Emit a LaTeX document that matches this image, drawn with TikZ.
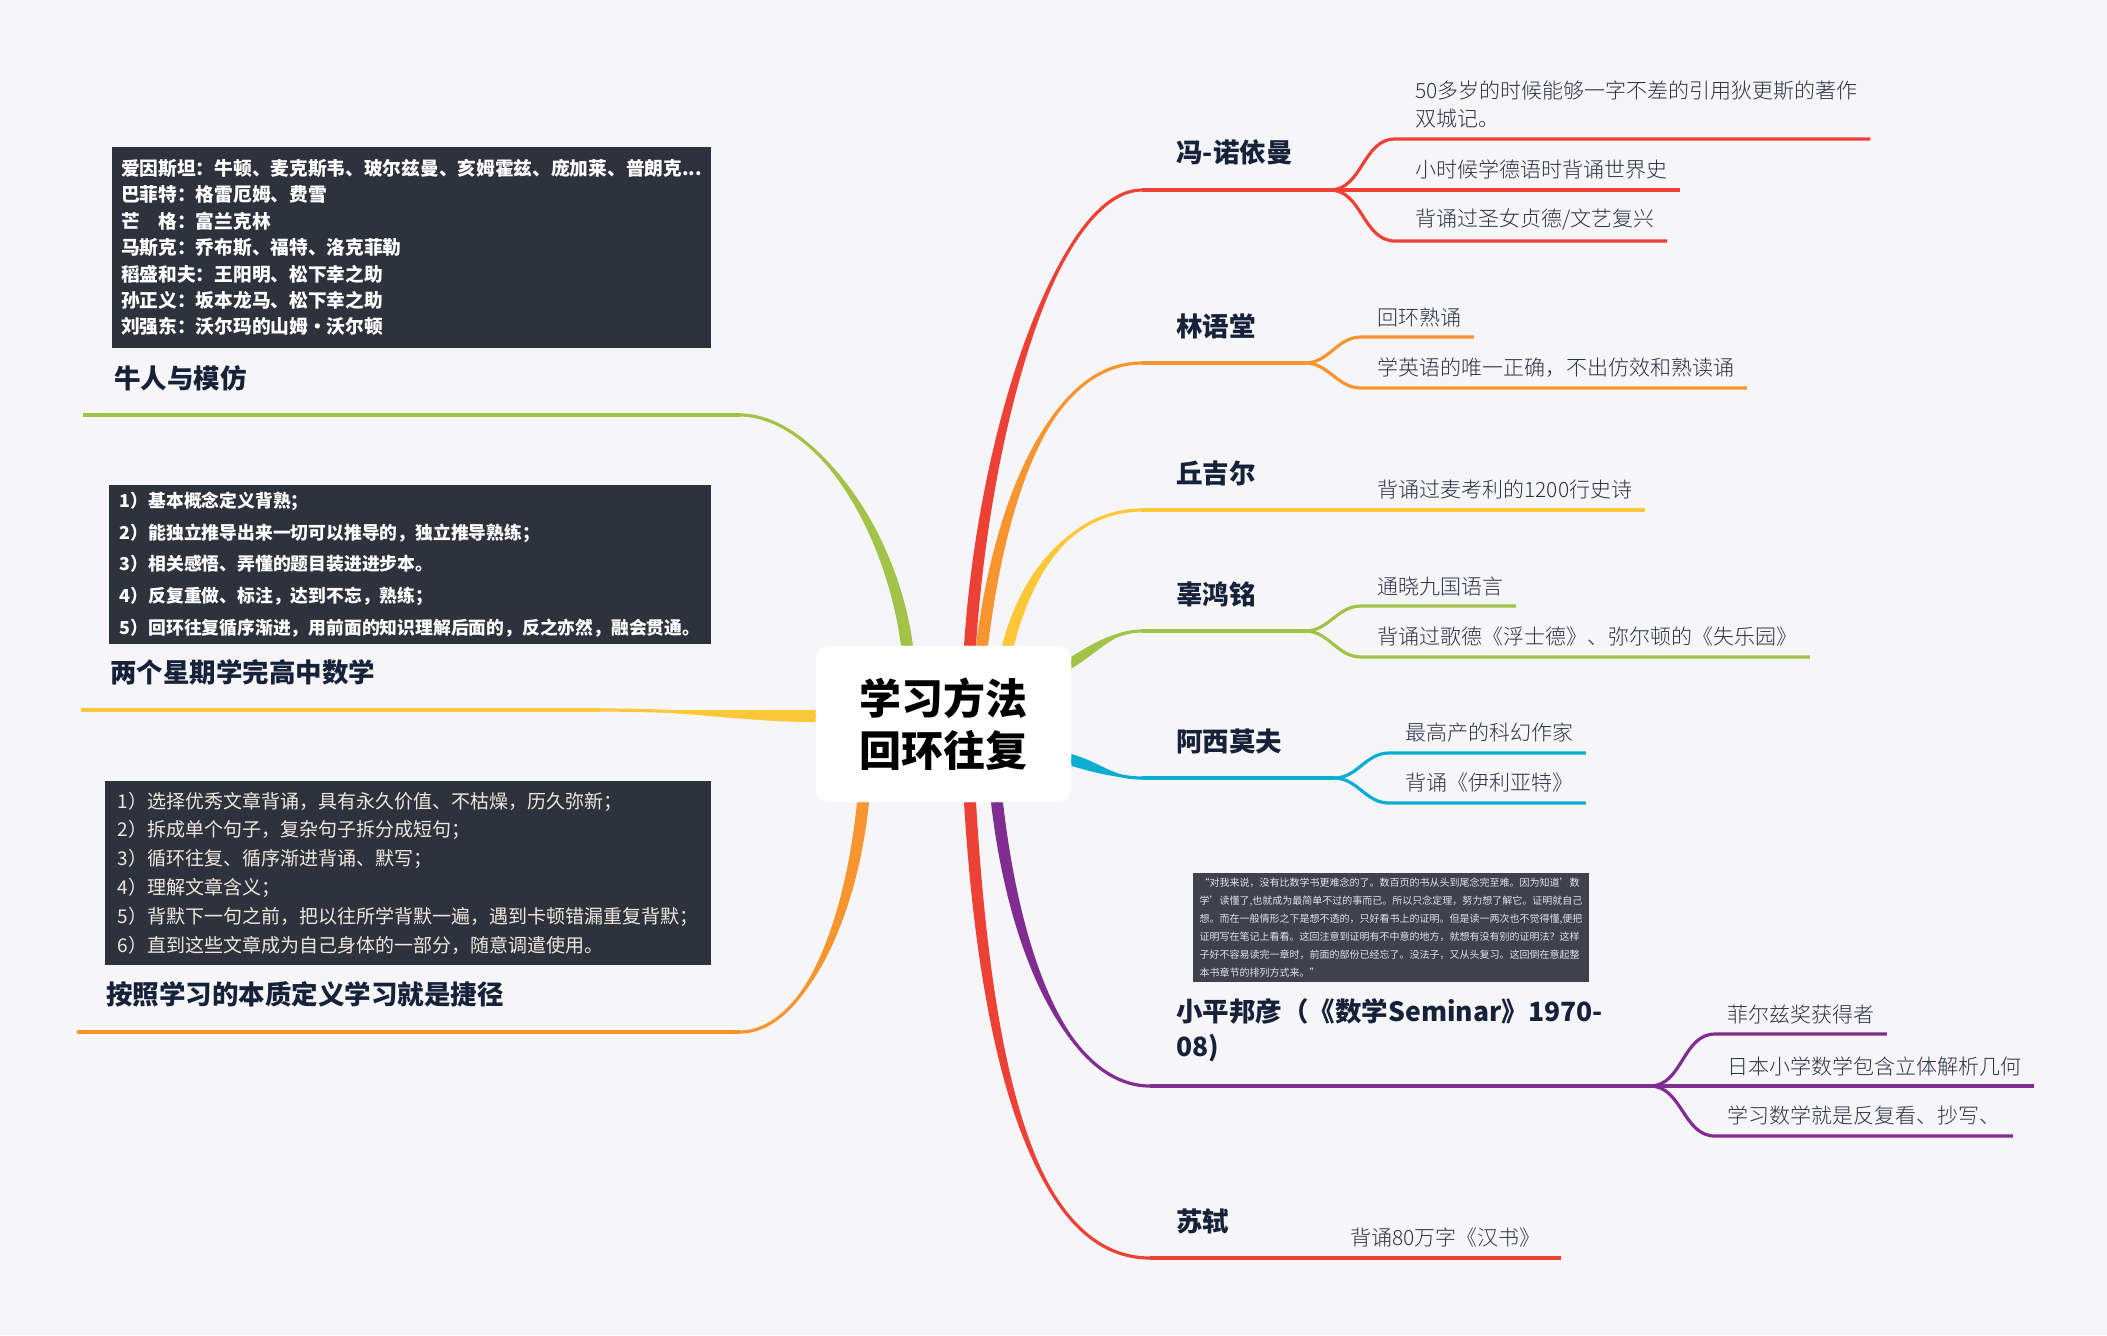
\documentclass[tikz,border=0pt]{standalone}
\usepackage{fontspec}
\setmainfont{Noto Sans CJK SC}
\IfFontExistsTF{Noto Sans CJK SC Light}
  {\newfontfamily\leaffont{Noto Sans CJK SC Light}}
  {\newfontfamily\leaffont{Noto Sans CJK SC}}
\usepackage{xcolor}
\usetikzlibrary{positioning, calc}

\definecolor{bgc}{HTML}{F6F6F9}
\definecolor{vred}{HTML}{EE4136}
\definecolor{vorange}{HTML}{F8952F}
\definecolor{vyellow}{HTML}{FDC73A}
\definecolor{vgreen}{HTML}{A2C348}
\definecolor{vcyan}{HTML}{0BADD3}
\definecolor{vpurple}{HTML}{812C91}
\definecolor{ink}{HTML}{16213A}
\definecolor{leafink}{HTML}{2A3346}
\definecolor{slate}{HTML}{2E323D}
\definecolor{cream}{HTML}{EFE7DC}
\definecolor{quoteink}{HTML}{E2E2E6}

% tapered branch: colour, start, half width, control 1, control 2, end
\newcommand{\limb}[6]{%
  \fill[#1] ($(#2)+(#3)$) .. controls ($(#4)+(#3)$) and (#5) .. (#6)
        .. controls (#5) and ($(#4)-(#3)$) .. ($(#2)-(#3)$) -- cycle;
  \draw[#1, twig] (#2) .. controls (#4) and (#5) .. (#6);}

\begin{document}
\begin{tikzpicture}[x=0.5pt, y=-0.5pt,
    twig/.style={line width=1.6pt},
    rootbox/.style={fill=white, rounded corners=6pt, minimum width=127.5pt,
        minimum height=78pt, align=center, text=black,
        font=\bfseries\fontsize{21}{26}\selectfont},
    topic/.style={anchor=south west, inner sep=0pt, yshift=12pt, align=left,
        text=ink, font=\bfseries\fontsize{13.25}{17.5}\selectfont},
    leaf/.style={anchor=south west, inner xsep=0pt, inner ysep=5pt, align=left,
        text=leafink, font=\leaffont\fontsize{10.5}{14}\selectfont},
    picbox/.style={fill=slate, inner sep=0pt, align=left}]

        \useasboundingbox (0,0) rectangle (2107,1335);
        \fill[bgc] (0,0) rectangle (2107,1335);

        % Central topic
        \node[rootbox] (root) at (943.5,724) {学习方法\\回环往复};

        % Start points on the central box
        \coordinate (s1) at ([xshift=13.25pt]root.north);
        \coordinate (s2) at ([xshift=19.25pt]root.north);
        \coordinate (s3) at ([xshift=32.25pt]root.north);
        \coordinate (s4) at ([yshift=-8.5pt]root.north east);
        \coordinate (s5) at ([yshift=-18pt]root.east);
        \coordinate (s6) at ([xshift=26.75pt]root.south);
        \coordinate (s7) at ([xshift=13.25pt]root.south);
        \coordinate (s8) at ([xshift=-18.25pt]root.north);
        \coordinate (s9) at ([yshift=4pt]root.west);
        \coordinate (s10) at ([xshift=-40.25pt]root.south);

        % Ends of the main branches
        \coordinate (vn) at (1142,190);  \coordinate (vnf) at (1330,190);
        \coordinate (ly) at (1142,363);  \coordinate (lyf) at (1305,363);
        \coordinate (qj) at (1142,510);
        \coordinate (gh) at (1142,631);  \coordinate (ghf) at (1305,631);
        \coordinate (as) at (1142,778);  \coordinate (asf) at (1334,778);
        \coordinate (kd) at (1150,1086); \coordinate (kdf) at (1650,1086);
        \coordinate (ss) at (1150,1258);
        \coordinate (nrend) at (740,415);  \coordinate (nrtip) at (83,415);
        \coordinate (lqend) at (600,710);  \coordinate (lqtip) at (81,710);
        \coordinate (azend) at (740,1032); \coordinate (aztip) at (77,1032);

        % Main branches, right
        \limb{vred}{s1}{6,0}{985,420}{1060,190}{vn}
        \limb{vorange}{s2}{6,0}{1000,500}{1050,363}{ly}
        \limb{vyellow}{s3}{6,0}{1030,560}{1080,510}{qj}
        \limb{vgreen}{s4}{0,6}{1100,645}{1115,631}{gh}
        \limb{vcyan}{s5}{0,6}{1100,768}{1115,778}{as}
        \limb{vpurple}{s6}{6,0}{1015,960}{1070,1086}{kd}
        \limb{vred}{s7}{6,0}{985,1050}{1030,1258}{ss}

        % Main branches, left
        \limb{vgreen}{s8}{6,0}{890,520}{810,415}{nrend}
        \limb{vyellow}{s9}{0,6}{740,716}{680,710}{lqend}
        \limb{vorange}{s10}{6,0}{850,930}{800,1032}{azend}
        \draw[vgreen, twig] (nrend) -- (nrtip);
        \draw[vyellow, twig] (lqend) -- (lqtip);
        \draw[vorange, twig] (azend) -- (aztip);

        % Topic labels
        \node[topic] (vonneumann) at (1176,190) {冯-诺依曼};
        \node[topic] (linyutang) at (1176,363) {林语堂};
        \node[topic] (churchill) at (1176,510) {丘吉尔};
        \node[topic] (guhongming) at (1176,631) {辜鸿铭};
        \node[topic] (asimov) at (1176,778) {阿西莫夫};
        \node[topic] (kodaira) at (1176,1086) {小平邦彦（《数学Seminar》1970-\\08)};
        \node[topic] (sushi) at (1176,1258) {苏轼};
        \node[topic] (idolnote) at (114,415) {牛人与模仿};
        \node[topic] (mathnote) at (110,710) {两个星期学完高中数学};
        \node[topic] (shortcut) at (106,1032) {按照学习的本质定义学习就是捷径};

        % 冯-诺依曼
        \draw[vred, twig] (vn) -- (vnf);
        \node[leaf] (vn1) at (1415,139) {50多岁的时候能够一字不差的引用狄更斯的著作\\双城记。};
        \node[leaf] (vn2) at (1415,190) {小时候学德语时背诵世界史};
        \node[leaf] (vn3) at (1415,241) {背诵过圣女贞德/文艺复兴};
        \foreach \n in {vn1,vn2,vn3}
            \draw[vred, twig] (vnf) to[out=0,in=180] ($(\n.south west)+(-20,0)$) -- ($(\n.south east)+(12,0)$);

        % 林语堂
        \draw[vorange, twig] (ly) -- (lyf);
        \node[leaf] (ly1) at (1377,337) {回环熟诵};
        \node[leaf] (ly2) at (1377,388) {学英语的唯一正确，不出仿效和熟读诵};
        \foreach \n in {ly1,ly2}
            \draw[vorange, twig] (lyf) to[out=0,in=180] ($(\n.south west)+(-16,0)$) -- ($(\n.south east)+(12,0)$);

        % 丘吉尔
        \node[leaf] (qj1) at (1377,510) {背诵过麦考利的1200行史诗};
        \draw[vyellow, twig] (qj) -- ($(qj1.south east)+(12,0)$);

        % 辜鸿铭
        \draw[vgreen, twig] (gh) -- (ghf);
        \node[leaf] (gh1) at (1377,606) {通晓九国语言};
        \node[leaf] (gh2) at (1377,657) {背诵过歌德《浮士德》、弥尔顿的《失乐园》};
        \foreach \n in {gh1,gh2}
            \draw[vgreen, twig] (ghf) to[out=0,in=180] ($(\n.south west)+(-16,0)$) -- ($(\n.south east)+(12,0)$);

        % 阿西莫夫
        \draw[vcyan, twig] (as) -- (asf);
        \node[leaf] (as1) at (1405,753) {最高产的科幻作家};
        \node[leaf] (as2) at (1405,803) {背诵《伊利亚特》};
        \foreach \n in {as1,as2}
            \draw[vcyan, twig] (asf) to[out=0,in=180] ($(\n.south west)+(-16,0)$) -- ($(\n.south east)+(12,0)$);

        % 小平邦彦
        \draw[vpurple, twig] (kd) -- (kdf);
        \node[leaf] (kd1) at (1727,1034) {菲尔兹奖获得者};
        \node[leaf] (kd2) at (1727,1086) {日本小学数学包含立体解析几何};
        \node[leaf] (kd3) at (1727,1136) {学习数学就是反复看、抄写、};
        \foreach \n in {kd1,kd2,kd3}
            \draw[vpurple, twig] (kdf) to[out=0,in=180] ($(\n.south west)+(-12,0)$) -- ($(\n.south east)+(12,0)$);

        \node[picbox, fill=slate!92!white, minimum width=198pt, minimum height=54.5pt,
              text=quoteink, font=\fontsize{5}{9}\selectfont] (quote) at (1391,927.5)
            {“对我来说，没有比数学书更难念的了。数百页的书从头到尾念完至难。因为知道’数\\
             学’读懂了,也就成为最简单不过的事而已。所以只念定理，努力想了解它。证明就自己\\
             想。而在一般情形之下是想不透的，只好看书上的证明。但是读一两次也不觉得懂,便把\\
             证明写在笔记上看看。这回注意到证明有不中意的地方，就想有没有别的证明法？这样\\
             子好不容易读完一章时，前面的部份已经忘了。没法子，又从头复习。这回倒在意起整\\
             本书章节的排列方式来。”};

        % 苏轼
        \node[leaf] (ss1) at (1350,1258) {背诵80万字《汉书》};
        \draw[vred, twig] (ss) -- ($(ss1.south east)+(20,0)$);

        % Picture boxes on the left
        \node[picbox, minimum width=299.5pt, minimum height=100.5pt, text=white,
              font=\bfseries\fontsize{9.35}{13.2}\selectfont] (idols) at (411.5,247.5)
            {爱因斯坦：牛顿、麦克斯韦、玻尔兹曼、亥姆霍兹、庞加莱、普朗克...\\
             巴菲特：格雷厄姆、费雪\\
             芒\hspace{1em}格：富兰克林\\
             马斯克：乔布斯、福特、洛克菲勒\\
             稻盛和夫：王阳明、松下幸之助\\
             孙正义：坂本龙马、松下幸之助\\
             刘强东：沃尔玛的山姆·沃尔顿};
        \node[picbox, minimum width=301pt, minimum height=79.5pt, text=white,
              font=\bfseries\fontsize{8.9}{15.85}\selectfont] (steps) at (410,564.5)
            {1）基本概念定义背熟；\\
             2）能独立推导出来一切可以推导的，独立推导熟练；\\
             3）相关感悟、弄懂的题目装进进步本。\\
             4）反复重做、标注，达到不忘，熟练；\\
             5）回环往复循序渐进，用前面的知识理解后面的，反之亦然，融会贯通。};
        \node[picbox, minimum width=303pt, minimum height=92pt, text=cream,
              font=\fontsize{9.5}{14.4}\selectfont] (recite) at (408,873)
            {1）选择优秀文章背诵，具有永久价值、不枯燥，历久弥新；\\
             2）拆成单个句子，复杂句子拆分成短句；\\
             3）循环往复、循序渐进背诵、默写；\\
             4）理解文章含义；\\
             5）背默下一句之前，把以往所学背默一遍，遇到卡顿错漏重复背默；\\
             6）直到这些文章成为自己身体的一部分，随意调遣使用。};
\end{tikzpicture}
\end{document}
